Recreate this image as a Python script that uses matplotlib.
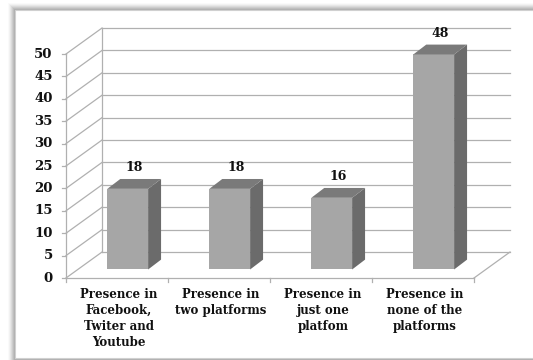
import matplotlib
matplotlib.use("Agg")
from matplotlib import pyplot as plt
from matplotlib.patches import Polygon, Rectangle

# data
categories = ['Presence in\nFacebook,\nTwiter and\nYoutube', 'Presence in\ntwo platforms',
              'Presence in\njust one\nplatfom', 'Presence in\nnone of the\nplatforms']
values = [18, 18, 16, 48]
yticks = [0, 5, 10, 15, 20, 25, 30, 35, 40, 45, 50]

# fake 3d geometry (in data units)
wall_dx, wall_dy = 0.353, 5.8   # depth of the back wall
bar_ox, bar_oy = 0.105, 1.9     # front face of the bars sits a bit inside
bar_dx, bar_dy = 0.127, 2.2     # bar depth
bar_w = 0.40

front = '#a6a6a6'
side = '#6b6b6b'
top = '#7a7a7a'
grid = '#b0b0b0'
txt = '#111111'
font = 'DejaVu Serif'

fig = plt.figure(figsize=(5.33, 3.6), dpi=100)
fig.patch.set_facecolor('white')

# panel with a soft shadow on top / left
for k, a in enumerate([0.04, 0.06, 0.09, 0.12, 0.15, 0.18, 0.2]):
    fig.patches.append(Rectangle(((15 - 7 + k) / 533, 0), 1, (350 + 7 - k) / 360,
                                 transform=fig.transFigure, facecolor='#808080',
                                 alpha=a, edgecolor='none', zorder=-3))
fig.patches.append(Rectangle((15 / 533, 2 / 360), 1, 348 / 360, transform=fig.transFigure,
                             facecolor='white', edgecolor='#d0d0d0', lw=0.8, zorder=-2))

ax = fig.add_axes([66 / 533, (360 - 278) / 360, 454 / 533, 258 / 360])
ax.set_xlim(-0.5, -0.5 + 454 / 102)
ax.set_ylim(0, 258 / 4.48)
ax.patch.set_alpha(0)
for s in ax.spines.values():
    s.set_visible(False)
ax.set_xticks([])
ax.set_yticks([])

x0 = -0.5
x1 = len(values) - 0.5
lw = 0.9
kw = dict(color=grid, lw=lw, zorder=1, clip_on=False)

# back wall gridlines and left wall diagonals
for t in yticks:
    ax.plot([x0 + wall_dx, x1 + wall_dx], [t + wall_dy, t + wall_dy], **kw)
    ax.plot([x0, x0 + wall_dx], [t, t + wall_dy], **kw)
    ax.plot([x0 - 0.04, x0], [t, t], **kw)
    ax.text(x0 - 0.13, t, str(t), ha='right', va='center', fontsize=9.5,
            fontweight='bold', family=font, color=txt)
ax.plot([x0 + wall_dx, x0 + wall_dx], [wall_dy, yticks[-1] + wall_dy], **kw)
ax.plot([x0, x0], [0, yticks[-1]], **kw)
# floor
ax.plot([x0, x1], [0, 0], **kw)
ax.plot([x1, x1 + wall_dx], [0, wall_dy], **kw)
for i in range(len(values) + 1):
    ax.plot([i - 0.5, i - 0.5], [0, -0.9], **kw)

# bars
for i, v in enumerate(values):
    l = i + bar_ox - bar_w / 2
    r = i + bar_ox + bar_w / 2
    ax.add_patch(Rectangle((l, bar_oy), bar_w, v, facecolor=front, edgecolor='none', zorder=3))
    ax.add_patch(Polygon([(r, bar_oy), (r + bar_dx, bar_oy + bar_dy),
                          (r + bar_dx, v + bar_oy + bar_dy), (r, v + bar_oy)],
                         closed=True, facecolor=side, edgecolor='none', zorder=3))
    ax.add_patch(Polygon([(l, v + bar_oy), (r, v + bar_oy),
                          (r + bar_dx, v + bar_oy + bar_dy), (l + bar_dx, v + bar_oy + bar_dy)],
                         closed=True, facecolor=top, edgecolor='none', zorder=3))
    ax.text(i + bar_ox + bar_dx / 2, v + 6.6, str(v), ha='center', va='center',
            fontsize=9, fontweight='bold', family=font, color=txt, zorder=4)
    ax.text(i + 0.02, -2.2, categories[i], ha='center', va='top', fontsize=8.5,
            fontweight='bold', family=font, color=txt, linespacing=1.3)

fig.savefig('out.png', dpi=100)
